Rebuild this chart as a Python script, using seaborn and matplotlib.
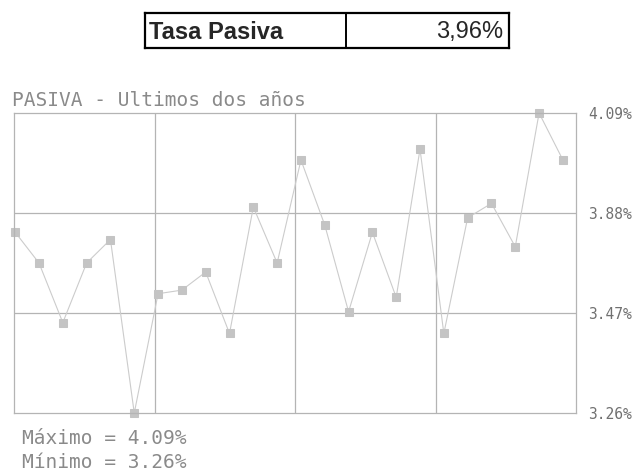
import numpy as np
import pandas as pd
import matplotlib
matplotlib.use("Agg")
import matplotlib.pyplot as plt
import seaborn as sns

# tasa pasiva, ultimos 24 meses
meses = list(range(24))
tasa = [3.76, 3.675, 3.51, 3.675, 3.74, 3.26, 3.59, 3.60, 3.65, 3.48, 3.83, 3.675,
        3.96, 3.78, 3.54, 3.76, 3.58, 3.99, 3.48, 3.80, 3.84, 3.72, 4.09, 3.96]
etiquetas_y = ["3.26%", "3.47%", "3.88%", "4.09%"]
tasa_actual = "3,96%"

data = pd.DataFrame({"mes": meses, "tasa": tasa})

sns.set_style("white")
plt.rcParams["font.family"] = ["DejaVu Sans Mono"]

fig = plt.figure(figsize=(6.35, 4.74), dpi=100)

# recuadro superior
axt = fig.add_axes([145 / 635, 1 - 48 / 474, 364 / 635, 35 / 474])
axt.set_xlim(0, 1)
axt.set_ylim(0, 1)
axt.set_xticks([])
axt.set_yticks([])
for s in axt.spines.values():
    s.set_color("black")
    s.set_linewidth(1.6)
axt.axvline(201 / 364, color="black", lw=1.4)
axt.text(0.012, 0.45, "Tasa Pasiva", fontsize=17, fontweight="bold", va="center", ha="left",
         family="Liberation Sans")
axt.text(0.985, 0.45, tasa_actual, fontsize=17, va="center", ha="right", family="Liberation Sans")

# grafico
ax = fig.add_axes([14 / 635, 1 - 413 / 474, 562 / 635, 300 / 474])
gris = "#c4c4c4"
sns.lineplot(data=data, x="mes", y="tasa", ax=ax, color="#cccccc", linewidth=0.8,
             marker="s", markersize=5.5, markerfacecolor=gris, markeredgecolor=gris, clip_on=False)

x0, x1 = -0.05, 23.55
y0, y1 = min(tasa), max(tasa)
ax.set_xlim(x0, x1)
ax.set_ylim(y0, y1)
ax.set_xticks([])
yt = np.linspace(y0, y1, 4)
ax.yaxis.tick_right()
ax.set_yticks(yt)
ax.set_yticklabels(etiquetas_y)
ax.tick_params(axis="y", length=0, pad=9, labelsize=10.5, labelcolor="#707070")
ax.set_xlabel("")
ax.set_ylabel("")

gcol = "#b4b4b4"
for v in yt[1:-1]:
    ax.axhline(v, color=gcol, lw=0.9, zorder=0)
for k in range(1, 4):
    ax.axvline(x0 + k * (x1 - x0) / 4, color=gcol, lw=0.9, zorder=0)
for s in ax.spines.values():
    s.set_color(gcol)
    s.set_linewidth(0.9)

tcol = "#8a8a8a"
fig.text(12 / 635, 1 - 101 / 474, "PASIVA - Ultimos dos años", fontsize=14, color=tcol, va="center")
fig.text(22 / 635, 1 - 438 / 474, "Máximo = %.2f%%" % max(tasa), fontsize=14, color=tcol, va="center")
fig.text(22 / 635, 1 - 462 / 474, "Mínimo = %.2f%%" % min(tasa), fontsize=14, color=tcol, va="center")

plt.savefig("out.png", dpi=100)
